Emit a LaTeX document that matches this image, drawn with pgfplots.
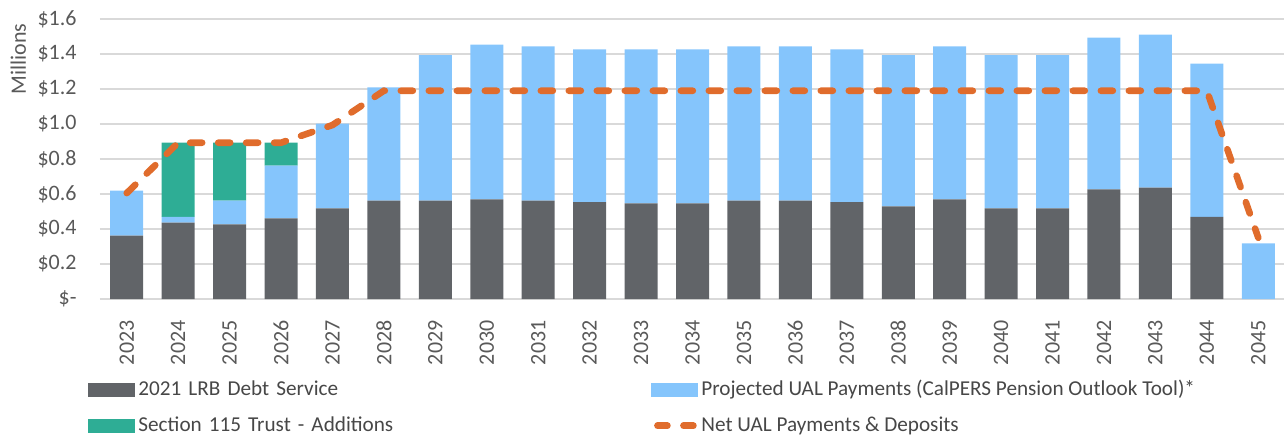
\documentclass[border=0pt]{standalone}
\usepackage{pgfplots}
\pgfplotsset{compat=1.18}
\usepackage{fontspec}
\setmainfont{Carlito}
\usetikzlibrary{calc}
\definecolor{debt}{HTML}{616468}
\definecolor{ual}{HTML}{85C5FC}
\definecolor{trust}{HTML}{2EAD95}
\definecolor{net}{HTML}{E06C2C}
\definecolor{gridc}{HTML}{D9D9D9}
\definecolor{txt}{HTML}{595959}

\begin{document}
\begin{tikzpicture}[font=\fontsize{10.6}{12.5}\selectfont]
\pgfplotsset{
  base/.style={
    scale only axis, width=592pt, height=140pt,
    xmin=-0.52, xmax=22.5, ymin=0, ymax=1.6,
  },
  barleg/.style={legend image code/.code={
    \fill[##1, draw=none] (0pt,-3.5pt) rectangle (23.5pt,3.5pt);}},
  lineleg/.style={legend image code/.code={
    \draw[##1, dash pattern=on 5pt off 8pt] (3pt,0pt) -- (21pt,0pt);}},
}
% stacked bars
\begin{axis}[base, name=main,
  ybar stacked, bar width=16.5pt,
  axis line style={draw=none}, major tick length=0pt,
  ymajorgrids, grid style={gridc, line width=0.8pt},
  ytick={0,0.2,0.4,0.6,0.8,1.0,1.2,1.4,1.6},
  yticklabels={\$-,\$0.2,\$0.4,\$0.6,\$0.8,\$1.0,\$1.2,\$1.4,\$1.6},
  xtick={0,...,22},
  xticklabels={2023,2024,2025,2026,2027,2028,2029,2030,2031,2032,2033,2034,
    2035,2036,2037,2038,2039,2040,2041,2042,2043,2044,2045},
  tick label style={text=txt, font=\fontsize{11}{13}\selectfont},
  yticklabel style={anchor=east, inner sep=0pt, xshift=-11.5pt},
  xticklabel style={rotate=90, anchor=east, inner sep=0pt},
  xticklabel shift=10.5pt,
  clip=false,
]
% 2021 LRB debt service
\addplot[fill=debt, draw=none] coordinates {
  (0,0.362) (1,0.436) (2,0.427) (3,0.461) (4,0.518) (5,0.562) (6,0.562)
  (7,0.570) (8,0.562) (9,0.554) (10,0.547) (11,0.547) (12,0.562) (13,0.562)
  (14,0.554) (15,0.530) (16,0.570) (17,0.518) (18,0.518) (19,0.627)
  (20,0.636) (21,0.470) (22,0)};
% projected UAL payments
\addplot[fill=ual, draw=none] coordinates {
  (0,0.257) (1,0.033) (2,0.135) (3,0.301) (4,0.484) (5,0.648) (6,0.832)
  (7,0.883) (8,0.882) (9,0.873) (10,0.880) (11,0.880) (12,0.882) (13,0.882)
  (14,0.873) (15,0.864) (16,0.874) (17,0.876) (18,0.876) (19,0.866)
  (20,0.874) (21,0.875) (22,0.318)};
% section 115 trust additions
\addplot[fill=trust, draw=none] coordinates {
  (0,0) (1,0.424) (2,0.331) (3,0.131) (4,0) (5,0) (6,0) (7,0) (8,0) (9,0)
  (10,0) (11,0) (12,0) (13,0) (14,0) (15,0) (16,0) (17,0) (18,0) (19,0)
  (20,0) (21,0) (22,0)};
\node[rotate=90, text=txt, font=\fontsize{11}{13}\selectfont]
  at (rel axis cs:-0.069,0.857) {Millions};
\end{axis}
% net UAL line and legend
\begin{axis}[base, hide axis,
  legend columns=2,
  legend style={draw=none, fill=none, inner sep=0pt, anchor=north west,
    at={(rel axis cs:-0.0101,-0.275)},
    nodes={inner xsep=1.5pt, text=txt!80!black},
    /tikz/column 2/.style={nodes={text width=255pt, align=left}},
    row sep=5pt, column sep=0pt},
  legend cell align=left,
]
\addlegendimage{barleg, fill=debt}
\addlegendentry{2021 LRB Debt Service}
\addlegendimage{barleg, fill=ual}
\addlegendentry{Projected UAL Payments (CalPERS Pension Outlook Tool)*}
\addlegendimage{barleg, fill=trust}
\addlegendentry{Section 115 Trust - Additions}
\addplot[net, line width=3.3pt, line cap=round, dash pattern=on 6pt off 8pt,
  lineleg]
  coordinates {
  (0,0.605) (1,0.893) (2,0.893) (3,0.893) (4,0.994) (5,1.19) (6,1.19)
  (7,1.19) (8,1.19) (9,1.19) (10,1.19) (11,1.19) (12,1.19) (13,1.19)
  (14,1.19) (15,1.19) (16,1.19) (17,1.19) (18,1.19) (19,1.19) (20,1.19)
  (21,1.19) (22,0.35)};
\addlegendentry{Net UAL Payments \& Deposits}
\end{axis}
\pgfresetboundingbox
\path[use as bounding box] ($(main.south west)+(-50pt,-67.5pt)$)
  rectangle ($(main.north east)+(0pt,9.5pt)$);
\end{tikzpicture}
\end{document}
